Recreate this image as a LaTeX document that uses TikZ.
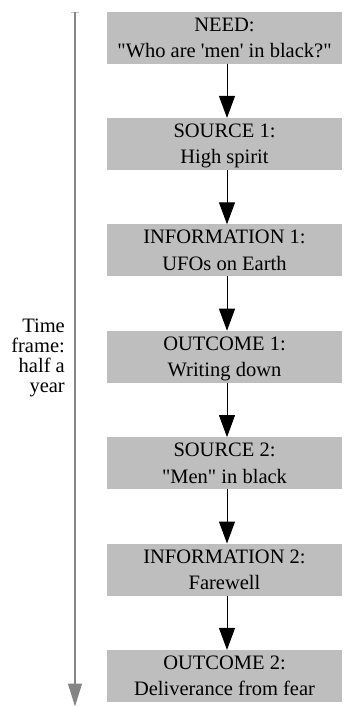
\documentclass[tikz,border=0pt]{standalone}
\usepackage{fontspec}
\setmainfont{Liberation Serif}
\usetikzlibrary{arrows.meta,calc}
\definecolor{boxgray}{HTML}{BEBEBE}
\definecolor{linegray}{HTML}{858585}
\newcommand{\flowbox}[4]{%
  \node[stagebox] (#1) at (224.5,#2+26) {};
  \node[boxtext] (#1a) at ($(#1.north)+(0,19.5)$) {#3};
  \node[boxtext] (#1b) at ($(#1.north)+(0,46)$) {#4};
}
\newcommand{\dq}{\textquotedbl}
\newcommand{\sq}{\textquotesingle}
\tikzset{
  stagebox/.style={draw=none, fill=boxgray, minimum width=235pt, minimum height=52pt, inner sep=0pt, outer sep=0pt},
  boxtext/.style={anchor=base, inner sep=0pt, font=\fontsize{20.5}{24}\selectfont},
  sidetext/.style={anchor=base east, inner sep=0pt, font=\fontsize{20.5}{24}\selectfont},
  flowarrow/.style={line width=1pt, -{Triangle[width=16pt,length=22pt]}},
  timearrow/.style={linegray, line width=1.2pt, -{Triangle[width=14pt,length=23pt]}}
}
\begin{document}
\begin{tikzpicture}[x=1pt,y=-1pt]
\useasboundingbox (0,0) rectangle (343,707);
\flowbox{b1}{11.5}{NEED:}{\dq Who are \sq men\sq\ in black?\dq}
\flowbox{b2}{117.9}{SOURCE 1:}{High spirit}
\flowbox{b3}{224.3}{INFORMATION 1:}{UFOs on Earth}
\flowbox{b4}{330.7}{OUTCOME 1:}{Writing down}
\flowbox{b5}{437.1}{SOURCE 2:}{\dq Men\dq\ in black}
\flowbox{b6}{543.5}{INFORMATION 2:}{Farewell}
\flowbox{b7}{649.9}{OUTCOME 2:}{Deliverance from fear}
\foreach \a/\b in {b1/b2,b2/b3,b3/b4,b4/b5,b5/b6,b6/b7}{
  \draw[flowarrow] ($(\a.south)+(2.5,0)$) -- ($(\b.north)+(2.5,0)$);
}
\coordinate (ttop) at (75,12);
\coordinate (tbot) at (75,706.5);
\coordinate (tickl) at (71,12);
\coordinate (tickr) at (79,12);
\draw[linegray!50, line width=1pt] (tickl) -- (tickr);
\draw[timearrow] (ttop) -- (tbot);
\node[sidetext] (t1) at (65,332) {Time};
\node[sidetext] (t2) at (65,352) {frame:};
\node[sidetext] (t3) at (65,372) {half a};
\node[sidetext] (t4) at (65,392) {year};
\end{tikzpicture}
\end{document}
